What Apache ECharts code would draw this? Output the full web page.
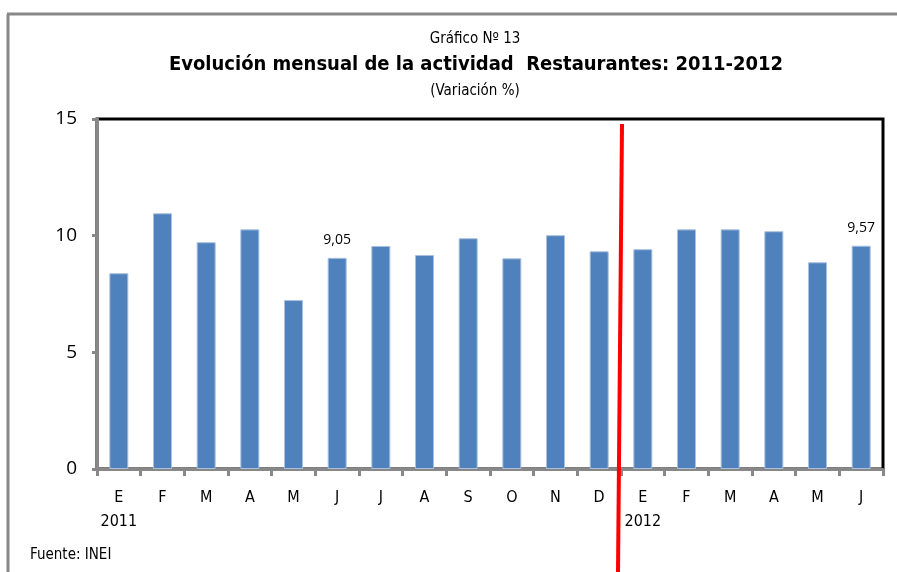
<!DOCTYPE html>
<html><head><meta charset="utf-8">
<script src="https://cdn.jsdelivr.net/npm/echarts@6/dist/echarts.min.js"></script>
<style>html,body{margin:0;padding:0;background:#fff}#c{width:897px;height:572px}</style>
</head><body><div id="c"></div>
<script>
var months = ['E','F','M','A','M','J','J','A','S','O','N','D','E','F','M','A','M','J'];
var yearLabels = ['2011','','','','','','','','','','','','2012','','','','',''];
var values = [8.39, 10.96, 9.72, 10.27, 7.24, 9.05, 9.56, 9.17, 9.89, 9.03, 10.02, 9.33, 9.42, 10.27, 10.27, 10.19, 8.86, 9.57];
var valueLabels = ['','','','','','9,05','','','','','','','','','','','','9,57'];
var yTicks = {min: 0, max: 15, interval: 5};

var narrow = '"Liberation Sans Narrow","DejaVu Sans Condensed",sans-serif';
var chart = echarts.init(document.getElementById('c'), null, {renderer: 'canvas'});
var cats = months.map(function(m, i){ return yearLabels[i] ? m + '\n' + yearLabels[i] : m; });
chart.setOption({
  animation: false,
  backgroundColor: '#fff',
  title: [
    {text: 'Gráfico Nº 13', left: 470, top: 27, textAlign: 'center',
     textStyle: {fontFamily: narrow, fontSize: 15, fontWeight: 'normal', color: '#000'}},
    {text: 'Evolución mensual de la actividad  Restaurantes: 2011-2012', left: 471, top: 50, textAlign: 'center',
     textStyle: {fontFamily: narrow, fontSize: 20, fontWeight: 'bold', color: '#000'}},
    {text: '(Variación %)', left: 470, top: 79, textAlign: 'center',
     textStyle: {fontFamily: narrow, fontSize: 15, fontWeight: 'normal', color: '#000'}},
    {text: 'Fuente: INEI', left: 25, top: 543,
     textStyle: {fontFamily: narrow, fontSize: 15, fontWeight: 'normal', color: '#000'}}
  ],
  grid: {left: 97, right: 14, top: 119, bottom: 103, show: true, borderColor: '#000', borderWidth: 3, backgroundColor: 'transparent'},
  xAxis: {
    type: 'category', data: cats, boundaryGap: true,
    axisLine: {lineStyle: {color: '#888', width: 3}},
    axisTick: {show: true, length: 7, lineStyle: {color: '#888', width: 3}},
    axisLabel: {fontFamily: narrow, fontSize: 16, color: '#000', margin: 17, lineHeight: 24, interval: 0}
  },
  yAxis: {
    type: 'value', min: yTicks.min, max: yTicks.max, interval: yTicks.interval,
    splitLine: {show: false},
    axisLine: {show: true, lineStyle: {color: '#888', width: 3}},
    axisTick: {show: true, length: 5, lineStyle: {color: '#888', width: 3}},
    axisLabel: {fontFamily: '"Open Sans",sans-serif', fontSize: 19, color: '#000', margin: 20}
  },
  series: [{
    type: 'bar', data: values, barWidth: 19,
    itemStyle: {color: '#4F81BD', borderColor: '#a9c0df', borderWidth: 1},
    label: {show: true, position: 'top', distance: 11, fontFamily: '"Open Sans",sans-serif', fontSize: 14, color: '#000',
      formatter: function(p){ return valueLabels[p.dataIndex]; }}
  }],
  graphic: [
    {type: 'line', shape: {x1: 8, y1: 14, x2: 8, y2: 572}, style: {stroke: '#888', lineWidth: 3}, silent: true},
    {type: 'line', shape: {x1: 7, y1: 14, x2: 897, y2: 14}, style: {stroke: '#888', lineWidth: 3}, silent: true},
    {type: 'line', shape: {x1: 622, y1: 124, x2: 618, y2: 572}, style: {stroke: '#ff0000', lineWidth: 4}, silent: true, z: 100}
  ]
});
</script></body></html>
